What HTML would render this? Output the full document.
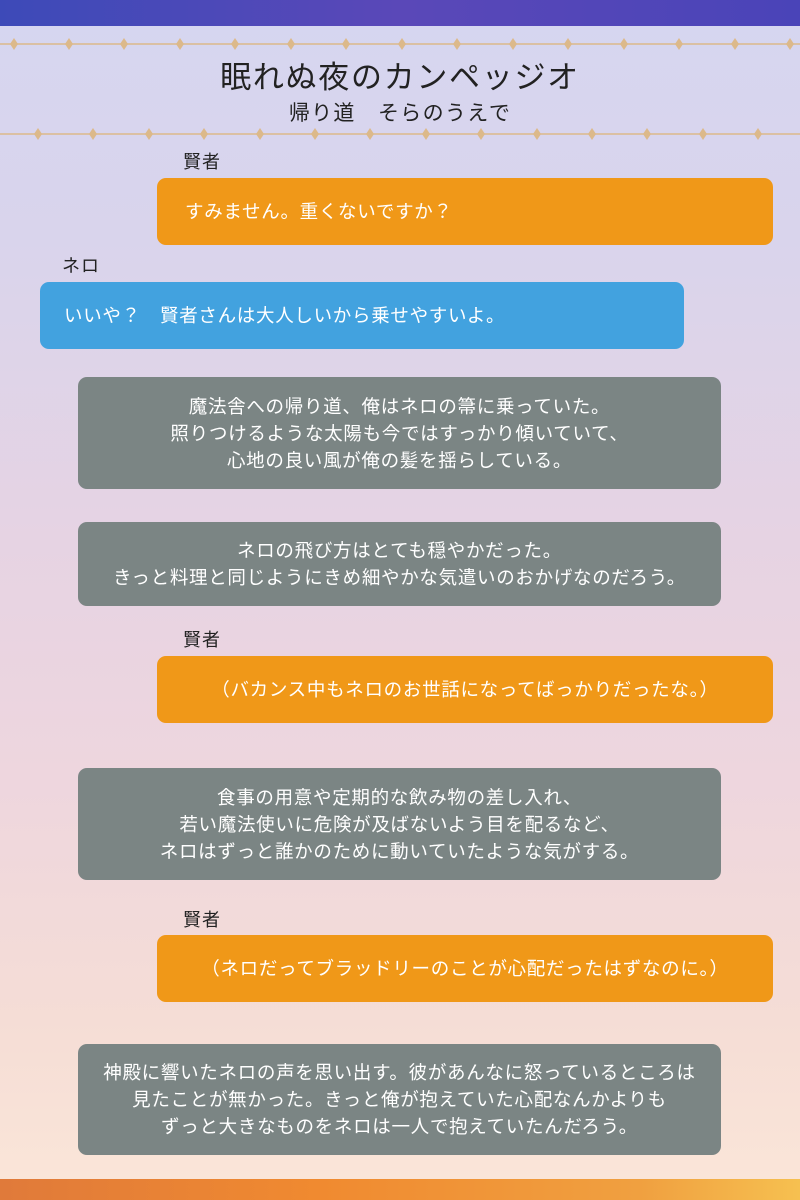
<!DOCTYPE html>
<html><head><meta charset="utf-8"><style>
*{margin:0;padding:0;box-sizing:border-box}
body{width:800px;height:1200px;position:relative;overflow:hidden;font-family:"Liberation Sans","Noto Sans CJK JP",sans-serif;
background:linear-gradient(180deg,#d6d6f0 0%,#d9d4ec 20%,#e6d3e3 45%,#eed6de 65%,#f5ddd6 85%,#fbe6d8 100%);}
.top{position:absolute;left:0;top:0;width:800px;height:26px;background:linear-gradient(90deg,#3d4ab8,#5a48b8 50%,#4a44b8);}
.bot{position:absolute;left:0;top:1179px;width:800px;height:21px;background:linear-gradient(90deg,#e07a3a,#f08a30 40%,#f0a040 80%,#f6c050);}
.deco{position:absolute;left:0;width:800px;height:12px}
.t{position:absolute;color:#222;white-space:nowrap}
.box{position:absolute;border-radius:9px;color:#fff;font-size:18.5px;line-height:27px;letter-spacing:0.7px;white-space:nowrap}
.o{background:#f09818;left:157px;width:616px;height:67px;padding:20px 28px}
.b{background:#42a2df;left:40px;width:644px;height:67px;padding:20px 24px}
.g{background:#7b8584;left:78px;width:643px;text-align:center;display:flex;flex-direction:column;justify-content:center}
.lbl{position:absolute;font-size:18px;color:#222;letter-spacing:1px}
</style></head><body>
<div class="top"></div>
<svg class="deco" style="top:38px" viewBox="0 0 800 12">
<line x1="0" y1="6" x2="800" y2="6" stroke="#dcb98a" stroke-width="1.5"/>
<g fill="#dcb98a">
<path d="M14 0L18 6L14 12L10 6Z"/><path d="M69 0L73 6L69 12L65 6Z"/><path d="M124 0L128 6L124 12L120 6Z"/><path d="M180 0L184 6L180 12L176 6Z"/><path d="M235 0L239 6L235 12L231 6Z"/><path d="M291 0L295 6L291 12L287 6Z"/><path d="M346 0L350 6L346 12L342 6Z"/><path d="M402 0L406 6L402 12L398 6Z"/><path d="M457 0L461 6L457 12L453 6Z"/><path d="M513 0L517 6L513 12L509 6Z"/><path d="M568 0L572 6L568 12L564 6Z"/><path d="M624 0L628 6L624 12L620 6Z"/><path d="M679 0L683 6L679 12L675 6Z"/><path d="M735 0L739 6L735 12L731 6Z"/><path d="M790 0L794 6L790 12L786 6Z"/></g></svg>
<svg class="deco" style="top:128px" viewBox="0 0 800 12">
<line x1="0" y1="6" x2="800" y2="6" stroke="#dcb98a" stroke-width="1.5"/>
<g fill="#dcb98a">
<path d="M38 0L42 6L38 12L34 6Z"/><path d="M93 0L97 6L93 12L89 6Z"/><path d="M149 0L153 6L149 12L145 6Z"/><path d="M204 0L208 6L204 12L200 6Z"/><path d="M260 0L264 6L260 12L256 6Z"/><path d="M315 0L319 6L315 12L311 6Z"/><path d="M370 0L374 6L370 12L366 6Z"/><path d="M426 0L430 6L426 12L422 6Z"/><path d="M481 0L485 6L481 12L477 6Z"/><path d="M537 0L541 6L537 12L533 6Z"/><path d="M592 0L596 6L592 12L588 6Z"/><path d="M647 0L651 6L647 12L643 6Z"/><path d="M703 0L707 6L703 12L699 6Z"/><path d="M758 0L762 6L758 12L754 6Z"/></g></svg>
<div class="t" style="left:0;width:800px;text-align:center;top:52px;font-size:31px;letter-spacing:1.7px">眠れぬ夜のカンペッジオ</div>
<div class="t" style="left:0;width:800px;text-align:center;top:97px;font-size:21px;letter-spacing:1.3px">帰り道　そらのうえで</div>

<div class="lbl" style="left:183px;top:148px">賢者</div>
<div class="box o" style="top:178px">すみません。重くないですか？</div>
<div class="lbl" style="left:62px;top:252px">ネロ</div>
<div class="box b" style="top:282px">いいや？　賢者さんは大人しいから乗せやすいよ。</div>
<div class="box g" style="top:377px;height:112px">魔法舎への帰り道、俺はネロの箒に乗っていた。<br>照りつけるような太陽も今ではすっかり傾いていて、<br>心地の良い風が俺の髪を揺らしている。</div>
<div class="box g" style="top:522px;height:84px">ネロの飛び方はとても穏やかだった。<br>きっと料理と同じようにきめ細やかな気遣いのおかげなのだろう。</div>
<div class="lbl" style="left:183px;top:626px">賢者</div>
<div class="box o" style="top:656px;text-align:center;padding:20px 10px">（バカンス中もネロのお世話になってばっかりだったな。）</div>
<div class="box g" style="top:768px;height:112px">食事の用意や定期的な飲み物の差し入れ、<br>若い魔法使いに危険が及ばないよう目を配るなど、<br>ネロはずっと誰かのために動いていたような気がする。</div>
<div class="lbl" style="left:183px;top:906px">賢者</div>
<div class="box o" style="top:935px;text-align:center;padding:20px 10px">（ネロだってブラッドリーのことが心配だったはずなのに。）</div>
<div class="box g" style="top:1044px;height:111px">神殿に響いたネロの声を思い出す。彼があんなに怒っているところは<br>見たことが無かった。きっと俺が抱えていた心配なんかよりも<br>ずっと大きなものをネロは一人で抱えていたんだろう。</div>
<div class="bot"></div>
</body></html>
